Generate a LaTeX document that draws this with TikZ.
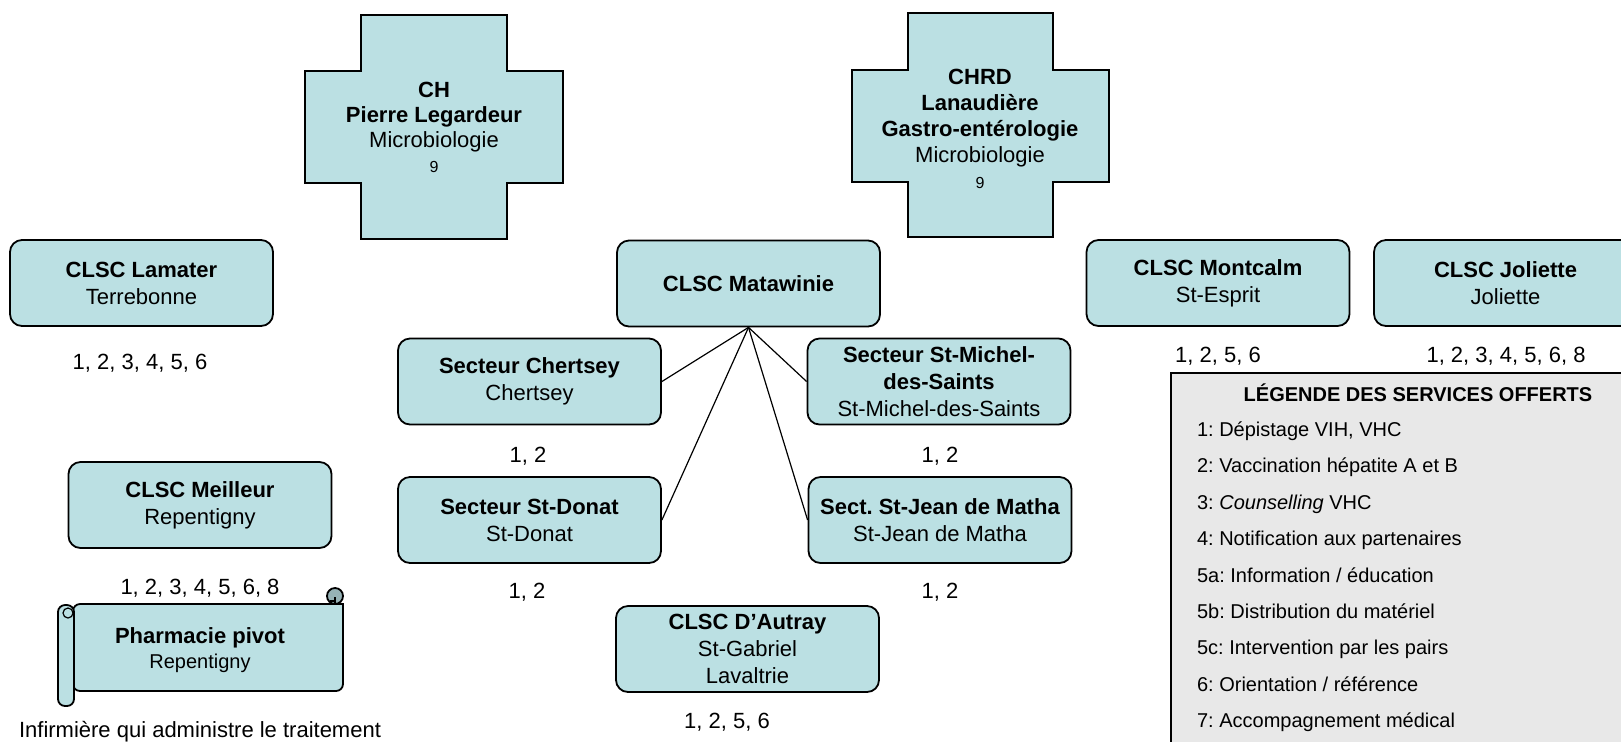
\documentclass[tikz,border=0pt]{standalone}
\usepackage{fontspec}
\setmainfont{Liberation Sans}
\usepackage{tikz}
\usetikzlibrary{positioning}
\usepackage{xcolor}
\definecolor{boxcyan}{RGB}{187,224,227}
\definecolor{leggray}{RGB}{232,232,232}
\definecolor{curlgray}{RGB}{150,178,182}
\frenchspacing

\begin{document}
\begin{tikzpicture}[x=0.5pt, y=-0.5pt,
        site/.style={rectangle, draw=black, fill=boxcyan, line width=0.9pt, rounded corners=6pt, minimum height=43pt, minimum width=131.5pt, inner sep=2pt, align=center, font=\fontsize{11}{13.5}\selectfont},
        crossbox/.style={draw=black, fill=boxcyan, line width=0.9pt},
        svc/.style={font=\fontsize{11}{13.5}\selectfont},
        legitem/.style={anchor=west, text height=7.5pt, text depth=2pt, font=\fontsize{10}{12}\selectfont},
        line/.style={draw=black, line width=0.6pt}
    ]
        \clip (0,0) rectangle (1621,741);

        % Centres hospitaliers en forme de croix
        \draw [crossbox] (361,15) -- (507,15) -- (507,71) -- (563,71) -- (563,183) -- (507,183) -- (507,239) -- (361,239) -- (361,183) -- (305,183) -- (305,71) -- (361,71) -- cycle;
        \draw [crossbox] (908,13) -- (1053,13) -- (1053,70) -- (1109,70) -- (1109,182) -- (1053,182) -- (1053,237) -- (908,237) -- (908,182) -- (852,182) -- (852,70) -- (908,70) -- cycle;
        \node [align=center, font=\fontsize{11}{12.5}\selectfont] (ch) at (434,127) {\textbf{CH}\\\textbf{Pierre Legardeur}\\Microbiologie\\{\fontsize{8}{10}\selectfont 9}};
        \node [align=center, font=\fontsize{11}{13}\selectfont] (chrd) at (980,129) {\textbf{CHRD}\\\textbf{Lanaudière}\\\textbf{Gastro-entérologie}\\Microbiologie\\{\fontsize{8}{10}\selectfont 9}};

        % CLSC et secteurs
        \node [site] (lamater) at (141.5,283) {\textbf{CLSC Lamater}\\Terrebonne};
        \node [site] (matawinie) at (748.5,283.5) {\textbf{CLSC Matawinie}};
        \node [site] (montcalm) at (1218,283) {\textbf{CLSC Montcalm}\\St-Esprit};
        \node [site] (joliette) at (1505.5,283) {\textbf{CLSC Joliette}\\Joliette};
        \node [site] (chertsey) at (529.5,381.5) {\textbf{Secteur Chertsey}\\Chertsey};
        \node [site] (stmichel) at (939,381.5) {\textbf{Secteur St-Michel-}\\\textbf{des-Saints}\\St-Michel-des-Saints};
        \node [site] (stdonat) at (529.5,520) {\textbf{Secteur St-Donat}\\St-Donat};
        \node [site] (stjean) at (940,520) {\textbf{Sect. St-Jean de Matha}\\St-Jean de Matha};
        \node [site] (meilleur) at (200,505) {\textbf{CLSC Meilleur}\\Repentigny};
        \node [site] (dautray) at (747.5,649) {\textbf{CLSC D'Autray}\\St-Gabriel\\Lavaltrie};

        % Services offerts sous chaque point
        \node [svc] (lamaterlbl) at (140,363) {1, 2, 3, 4, 5, 6};
        \node [svc] (montcalmlbl) at (1218,356) {1, 2, 5, 6};
        \node [svc] (joliettelbl) at (1506,356) {1, 2, 3, 4, 5, 6, 8};
        \node [svc] (chertseylbl) at (528,456) {1, 2};
        \node [svc] (stmichellbl) at (940,456) {1, 2};
        \node [svc] (stdonatlbl) at (527,592) {1, 2};
        \node [svc] (stjeanlbl) at (940,592) {1, 2};
        \node [svc] (meilleurlbl) at (200,588) {1, 2, 3, 4, 5, 6, 8};
        \node [svc] (dautraylbl) at (727,722) {1, 2, 5, 6};

        % Liens Matawinie -> secteurs
        \draw [line] (matawinie.south) -- (chertsey.east);
        \draw [line] (matawinie.south) -- (stdonat.east);
        \draw [line] (matawinie.south) -- (stmichel.west);
        \draw [line] (matawinie.south) -- (stjean.west);

        % Parchemin de la pharmacie
        \filldraw [fill=boxcyan, line width=0.9pt] (73,604) -- (343,604) [rounded corners=3.5pt] -- (343,691) -- (73,691) -- cycle;
        \filldraw [fill=curlgray, line width=0.9pt] (335,596) circle [radius=4pt];
        \draw [line width=0.6pt] (335,597) -- (335,604) (330,601) -- (335,601);
        \filldraw [fill=boxcyan, line width=0.9pt, rounded corners=3.5pt] (58,605) rectangle (74,706);
        \draw [line width=0.6pt] (68,613) circle [radius=2.5pt];
        \node [align=center, font=\fontsize{11}{12.5}\selectfont] (pharm) at (200,650) {\textbf{Pharmacie pivot}\\{\fontsize{10}{12}\selectfont Repentigny}};
        \node [svc] (infirm) at (200,732) {Infirmière qui administre le traitement};

        % Légende
        \node [draw=black, fill=leggray, line width=0.9pt, anchor=north west, minimum width=265pt, minimum height=214pt] (legend) at (1170,372) {};
        \node [font=\bfseries\fontsize{10}{12}\selectfont] (legtitle) at (1418,393) {LÉGENDE DES SERVICES OFFERTS};
        \foreach \txt [count=\k] in {{1: Dépistage VIH, VHC}, {2: Vaccination hépatite A et B}, {3: \textit{Counselling} VHC}, {4: Notification aux partenaires}, {5a: Information / éducation}, {5b: Distribution du matériel}, {5c: Intervention par les pairs}, {6: Orientation / référence}, {7: Accompagnement médical}}
            \node [legitem] (leg\k) at (1190,{431+36.4*(\k-1)}) {\txt};
    \end{tikzpicture}
\end{document}
